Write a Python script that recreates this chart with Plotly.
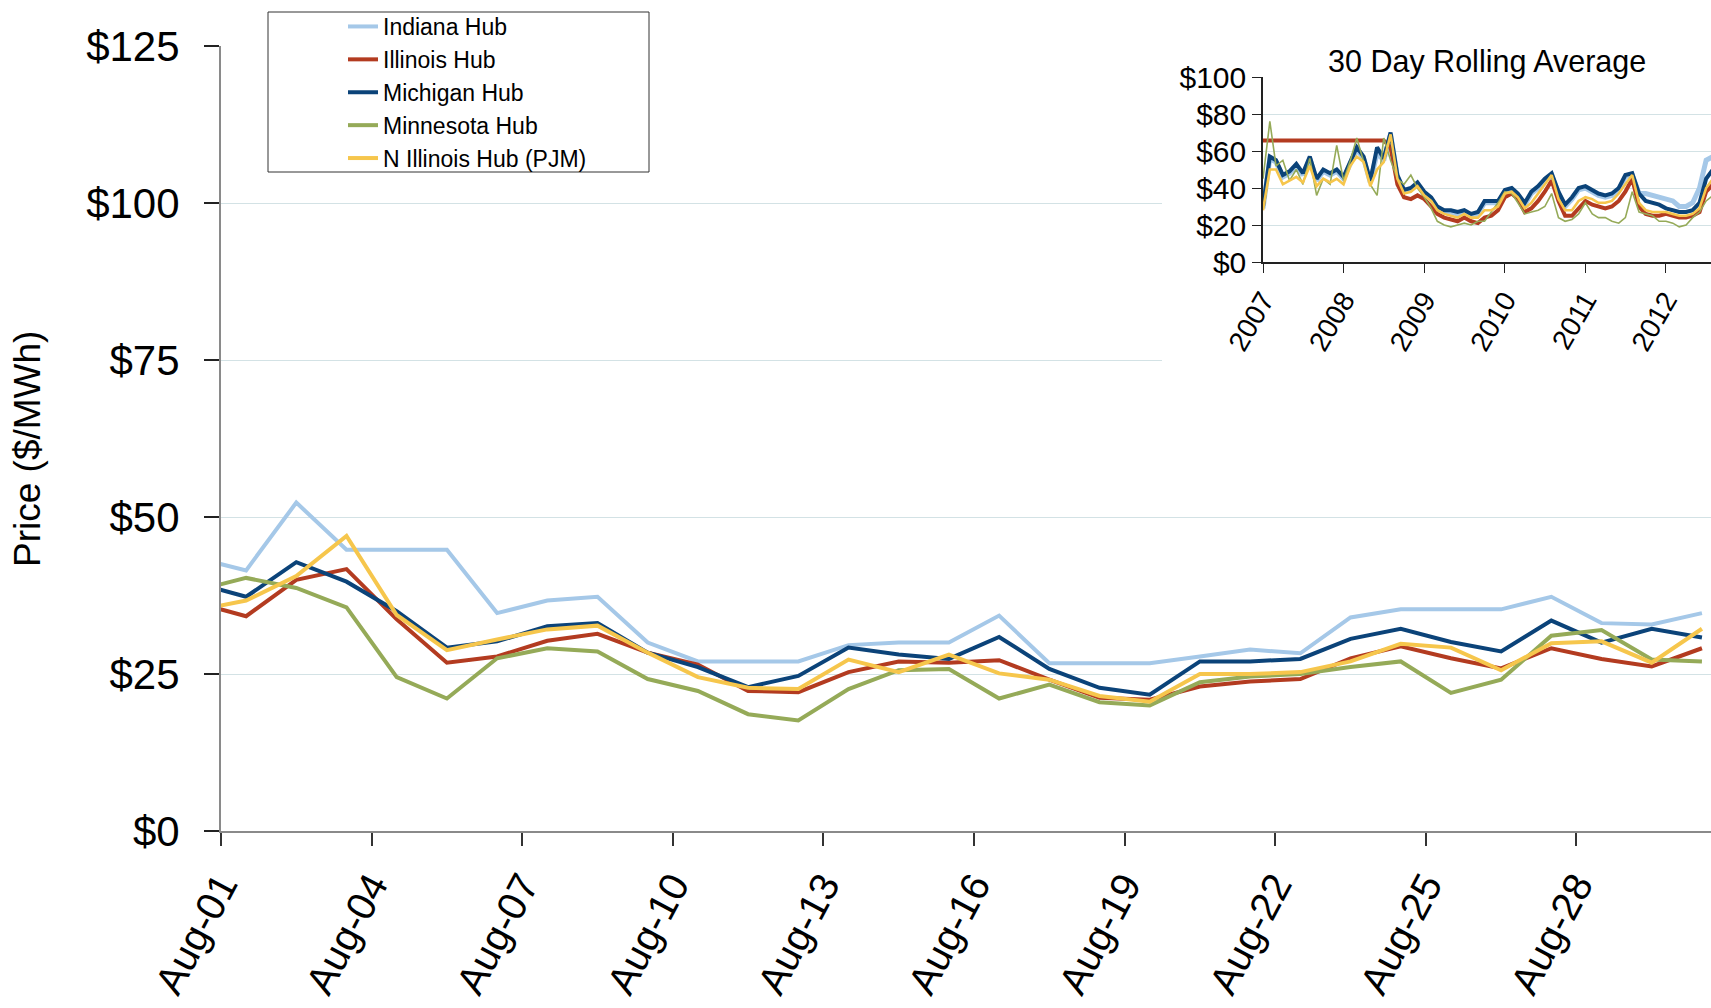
import pandas as pd
import plotly.graph_objects as go

# ---------------- main chart data (daily prices, $/MWh) ----------------
day_labels = ["Jul-31", "Aug-01", "Aug-02", "Aug-03", "Aug-04", "Aug-05", "Aug-06", "Aug-07",
              "Aug-08", "Aug-09", "Aug-10", "Aug-11", "Aug-12", "Aug-13", "Aug-14", "Aug-15",
              "Aug-16", "Aug-17", "Aug-18", "Aug-19", "Aug-20", "Aug-21", "Aug-22", "Aug-23",
              "Aug-24", "Aug-25", "Aug-26", "Aug-27", "Aug-28", "Aug-29", "Aug-30"]

indiana = [43.5, 41.5, 52.3, 44.8, 44.8, 44.8, 34.7, 36.7, 37.3, 30.0, 27.0, 27.0, 27.0, 29.6, 30.0, 30.0,
           34.3, 26.7, 26.7, 26.7, 27.8, 28.9, 28.3, 34.0, 35.3, 35.3, 35.3, 37.3, 33.1, 32.9, 34.7]
illinois = [36.4, 34.2, 40.0, 41.7, 33.7, 26.8, 27.8, 30.3, 31.4, 28.4, 26.5, 22.3, 22.1, 25.3, 27.0, 26.8,
            27.2, 24.1, 21.2, 20.9, 23.0, 23.8, 24.2, 27.5, 29.4, 27.5, 25.9, 29.1, 27.4, 26.2, 29.1]
michigan = [39.5, 37.3, 42.8, 39.7, 35.0, 29.2, 30.2, 32.6, 33.1, 28.4, 26.1, 22.9, 24.7, 29.2, 28.1, 27.4,
            30.9, 25.8, 22.8, 21.7, 27.0, 27.0, 27.4, 30.6, 32.2, 30.1, 28.6, 33.5, 30.0, 32.2, 30.8]
minnesota = [38.3, 40.3, 38.7, 35.6, 24.5, 21.1, 27.5, 29.1, 28.6, 24.2, 22.3, 18.6, 17.6, 22.6, 25.6, 25.8,
             21.1, 23.3, 20.5, 20.0, 23.7, 24.6, 25.0, 26.1, 27.0, 22.0, 24.1, 31.1, 32.0, 27.3, 27.0]
n_illinois = [35.1, 36.7, 40.6, 47.0, 34.4, 28.8, 30.5, 32.1, 32.7, 28.4, 24.5, 22.8, 22.6, 27.3, 25.3, 28.1,
              25.1, 24.1, 21.5, 20.6, 25.0, 25.0, 25.3, 27.0, 29.8, 29.2, 25.6, 29.9, 30.2, 26.8, 32.2]

tick_labels = ["Aug-01", "Aug-04", "Aug-07", "Aug-10", "Aug-13", "Aug-16", "Aug-19", "Aug-22",
               "Aug-25", "Aug-28"]
y_ticks = [0, 25, 50, 75, 100, 125]

# ---------------- inset data (30 day rolling average, monthly readings) ----------------
inset_start = "2007-01-01"
inset_years = ["2007", "2008", "2009", "2010", "2011", "2012"]
indiana_avg = [29, 56, 54, 46, 48, 52, 47, 56, 44, 49, 47, 49, 45, 54, 61, 56, 43, 59, 55, 69,
               46, 38, 39, 42, 37, 34, 29, 27, 27, 26, 27, 25, 26, 32, 32, 32, 38, 39, 36, 31,
               37, 40, 44, 47, 37, 30, 34, 39, 40, 38, 36, 35, 36, 39, 46, 47, 37, 37, 36, 35,
               34, 33, 30, 30, 32, 40, 55, 57]
illinois_avg = [65.7, 65.7, 65.7, 65.7, 65.7, 65.7, 65.7, 65.7, 65.7, 65.7, 65.7, 65.7, 65.7, 65.7,
                65.7, 65.7, 65.7, 65.7, 65.7,
                62, 42, 35, 34, 36, 34, 30, 26, 24, 23, 22, 24, 22, 21, 24, 25, 28, 35, 37, 34,
                27, 29, 33, 38, 44, 33, 25, 25, 29, 33, 31, 30, 29, 30, 33, 38, 45, 30, 26, 25,
                25, 26, 25, 24, 24, 25, 27, 38, 42]
michigan_avg = [30, 57, 55, 47, 49, 53, 48, 57, 45, 50, 48, 50, 46, 55, 62, 57, 44, 62, 56, 70,
                47, 39, 40, 43, 38, 35, 30, 28, 28, 27, 28, 26, 27, 33, 33, 33, 39, 40, 37, 32,
                38, 41, 45, 48, 38, 31, 35, 40, 41, 39, 37, 36, 37, 40, 47, 48, 37, 33, 32, 31,
                29, 28, 27, 27, 28, 32, 45, 50]
minnesota_avg = [45, 76, 52, 55, 44, 50, 42, 56, 36, 45, 42, 63, 44, 55, 67, 55, 42, 36, 67, 55,
                 45, 42, 47, 40, 35, 29, 22, 20, 19, 20, 21, 20, 22, 22, 27, 32, 38, 37, 32, 26,
                 27, 28, 30, 37, 24, 22, 23, 26, 32, 26, 24, 24, 22, 21, 24, 38, 27, 26, 25, 22,
                 22, 21, 19, 20, 24, 27, 33, 36]
n_illinois_avg = [28, 50, 50, 42, 44, 46, 43, 52, 41, 45, 43, 45, 42, 52, 57, 54, 41, 50, 54, 69,
                  45, 37, 38, 41, 36, 33, 28, 26, 25, 24, 26, 24, 24, 28, 28, 30, 37, 38, 35, 29,
                  32, 37, 42, 47, 34, 28, 28, 33, 35, 34, 32, 32, 33, 37, 42, 47, 32, 28, 27, 27,
                  27, 26, 25, 25, 26, 29, 40, 45]
inset_y_ticks = [0, 20, 40, 60, 80, 100]

series_names = ["Indiana Hub", "Illinois Hub", "Michigan Hub", "Minnesota Hub", "N Illinois Hub (PJM)"]
colors = ["#a5c8e8", "#b33b20", "#0b4379", "#95aa58", "#f6c64c"]
main_widths = [4, 4, 4, 4, 4]
inset_widths = [5, 4, 4, 1.6, 2.6]

# ---------------- build ----------------
W, H = 1711, 1008
FONT = "Liberation Sans, Arial, sans-serif"

day_x = pd.to_datetime(["2012-" + d for d in day_labels], format="%Y-%b-%d") + pd.Timedelta(hours=12)
tick_x = pd.to_datetime(["2012-" + d for d in tick_labels], format="%Y-%b-%d")
month_x = pd.date_range(inset_start, periods=len(michigan_avg), freq="MS")
year_x = pd.to_datetime([y + "-01-01" for y in inset_years])

fig = go.Figure()
main_series = [indiana, illinois, michigan, minnesota, n_illinois]
inset_series = [indiana_avg, illinois_avg, michigan_avg, minnesota_avg, n_illinois_avg]

for name, vals, col, w in zip(series_names, main_series, colors, main_widths):
    fig.add_trace(go.Scatter(x=day_x, y=vals, mode="lines", name=name,
                             line=dict(color=col, width=w), xaxis="x", yaxis="y"))

# empty cover subplot (white block behind the inset)
fig.add_trace(go.Scatter(x=[None], y=[None], mode="lines", showlegend=False,
                         hoverinfo="skip", xaxis="x2", yaxis="y2"))

for name, vals, col, w in zip(series_names, inset_series, colors, inset_widths):
    fig.add_trace(go.Scatter(x=month_x, y=vals, mode="lines", name=name, showlegend=False,
                             line=dict(color=col, width=w), xaxis="x3", yaxis="y3"))

grid_col = "#d3e2e5"

fig.update_layout(
    width=W, height=H,
    margin=dict(l=0, r=0, t=0, b=0, autoexpand=False),
    paper_bgcolor="white", plot_bgcolor="white",
    font=dict(family=FONT, color="black"),
    showlegend=True,
    legend=dict(x=343 / W, y=1 - 5 / H, xanchor="left", yanchor="top",
                bgcolor="rgba(0,0,0,0)", borderwidth=0,
                font=dict(family=FONT, size=23, color="black"), tracegroupgap=0),
    xaxis=dict(domain=[221 / W, 1], type="date", automargin=False,
               range=[tick_x[0], pd.Timestamp("2012-08-30 16:20")],
               tickvals=tick_x, ticktext=tick_labels, tickangle=-62,
               tickfont=dict(family=FONT, size=40), ticks="outside", ticklen=13,
               tickcolor="#333333", tickwidth=1.5,
               showline=True, linecolor="#8a8a8a", linewidth=2, showgrid=False, zeroline=False,
               anchor="y"),
    yaxis=dict(domain=[1 - 831 / H, 1 - 46 / H], range=[0, 125], automargin=False,
               tickvals=y_ticks, ticktext=["$" + str(v) for v in y_ticks],
               tickfont=dict(family=FONT, size=42),
               ticks="outside", ticklen=15, tickcolor="#222222", tickwidth=1.5,
               ticklabelstandoff=16,
               showline=True, linecolor="#8a8a8a", linewidth=2,
               showgrid=True, gridcolor=grid_col, gridwidth=1, zeroline=False, anchor="x"),
    xaxis2=dict(domain=[1162 / W, 1], visible=False, anchor="y2", automargin=False),
    yaxis2=dict(domain=[1 - 366 / H, 1], visible=False, anchor="x2", automargin=False),
    xaxis3=dict(domain=[1263 / W, 1], type="date", automargin=False,
                range=[pd.Timestamp(inset_start), pd.Timestamp("2012-07-23")],
                tickvals=year_x, ticktext=inset_years, tickangle=-60,
                tickfont=dict(family=FONT, size=28), ticks="outside", ticklen=9,
                tickcolor="#222222", showline=True, linecolor="#222222", linewidth=1.5,
                showgrid=False, zeroline=False, anchor="y3"),
    yaxis3=dict(domain=[1 - 262 / H, 1 - 77 / H], range=[0, 100], automargin=False,
                tickvals=inset_y_ticks, ticktext=["$" + str(v) for v in inset_y_ticks],
                tickfont=dict(family=FONT, size=30),
                ticks="outside", ticklen=9, tickcolor="#222222",
                showline=True, linecolor="#222222", linewidth=1.5,
                showgrid=True, gridcolor=grid_col, gridwidth=1, zeroline=False, anchor="x3"),
    shapes=[dict(type="rect", xref="paper", yref="paper",
                 x0=268 / W, x1=649 / W, y0=1 - 172 / H, y1=1 - 12 / H,
                 line=dict(color="#333333", width=1), fillcolor="white", layer="above")],
    annotations=[
        dict(text="Price ($/MWh)", x=27 / W, y=1 - 449 / H, xref="paper", yref="paper",
             textangle=-90, showarrow=False, font=dict(family=FONT, size=37),
             xanchor="center", yanchor="middle"),
        dict(text="30 Day Rolling Average", x=1487 / W, y=1 - 61 / H, xref="paper", yref="paper",
             showarrow=False, font=dict(family=FONT, size=30.5), xanchor="center", yanchor="middle"),
    ],
)

fig.write_html("out.html", config={"displayModeBar": False},
               post_script="document.body.style.margin='0';document.body.style.overflow='hidden';")
